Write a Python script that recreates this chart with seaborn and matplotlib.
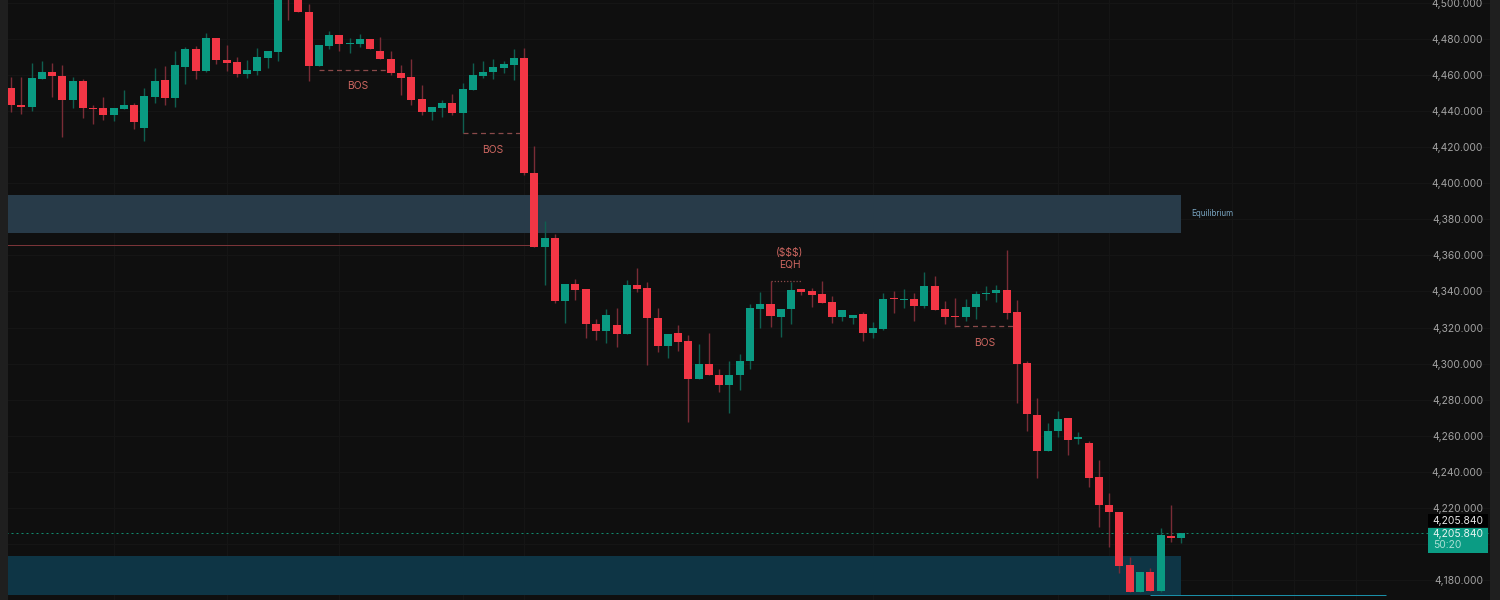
"""Candlestick chart, dark theme, with zones and BOS/EQH notes."""
import matplotlib

matplotlib.use("Agg")
import matplotlib.pyplot as plt  # noqa: E402
import numpy as np  # noqa: E402
import pandas as pd  # noqa: E402
import seaborn as sns  # noqa: E402
from matplotlib.patches import Rectangle  # noqa: E402

opens = [4452.9, 4443.6, 4442.5, 4458.0, 4461.9, 4459.5, 4446.0, 4456.7, 4441.8, 4441.6,
         4438.1, 4441.2, 4443.4, 4430.9, 4448.0, 4457.3, 4447.3, 4464.7, 4474.5, 4462.5,
         4480.6, 4468.6, 4467.3, 4460.6, 4462.3, 4469.5, 4472.8, 4515.0, 4506.0, 4495.2,
         4465.0, 4476.3, 4482.3, 4477.4, 4477.3, 4480.2, 4473.4, 4469.1, 4461.4, 4458.8,
         4446.6, 4439.5, 4441.6, 4444.5, 4439.2, 4451.9, 4459.7, 4461.7, 4463.8, 4465.6,
         4469.7, 4405.9, 4364.8, 4369.5, 4334.7, 4344.1, 4341.4, 4321.9, 4317.9, 4321.2,
         4316.6, 4343.6, 4341.9, 4325.3, 4309.9, 4316.8, 4312.3, 4291.3, 4299.6, 4293.9,
         4287.9, 4293.5, 4301.2, 4330.5, 4333.1, 4325.8, 4330.3, 4341.2, 4340.1, 4338.6,
         4334.3, 4325.7, 4325.5, 4327.3, 4317.0, 4319.2, 4336.0, 4335.5, 4335.8, 4331.8,
         4343.0, 4330.1, 4326.4, 4325.8, 4331.2, 4338.6, 4339.0, 4340.8, 4328.4, 4300.1,
         4271.7, 4251.4, 4262.4, 4269.6, 4258.4, 4255.8, 4237.1, 4221.6, 4217.9, 4188.3,
         4173.1, 4184.4, 4174.1, 4204.6, 4203.3]
closes = [4443.2, 4442.5, 4458.4, 4461.9, 4459.5, 4446.0, 4456.7, 4441.6, 4441.0, 4438.1,
          4441.6, 4443.4, 4433.8, 4448.6, 4456.7, 4447.5, 4465.4, 4474.5, 4462.5, 4480.4,
          4468.4, 4466.7, 4460.6, 4462.8, 4469.9, 4473.2, 4506.0, 4506.0, 4494.8, 4465.0,
          4476.5, 4482.3, 4477.1, 4477.8, 4480.2, 4474.3, 4468.7, 4461.2, 4458.4, 4446.0,
          4439.3, 4442.1, 4444.5, 4439.2, 4452.1, 4460.2, 4461.9, 4464.3, 4466.0, 4469.7,
          4405.9, 4364.8, 4369.5, 4334.7, 4344.1, 4341.0, 4321.8, 4317.9, 4327.1, 4316.4,
          4343.6, 4341.6, 4325.1, 4309.9, 4316.6, 4312.0, 4291.3, 4299.6, 4293.9, 4287.9,
          4293.9, 4301.6, 4330.8, 4333.1, 4326.4, 4330.5, 4341.0, 4339.7, 4338.2, 4333.8,
          4325.7, 4329.7, 4327.1, 4317.0, 4319.5, 4335.8, 4335.6, 4335.8, 4331.8, 4343.0,
          4329.9, 4326.0, 4326.0, 4331.6, 4338.6, 4339.3, 4340.8, 4328.3, 4299.6, 4271.9,
          4251.4, 4262.6, 4269.5, 4257.8, 4259.3, 4236.7, 4221.4, 4217.7, 4187.9, 4173.1,
          4184.4, 4174.1, 4204.9, 4203.5, 4205.84]
highs = [4458.8, 4458.8, 4466.5, 4467.8, 4466.5, 4465.6, 4459.1, 4457.7, 4443.6, 4447.9,
         4441.6, 4451.7, 4444.7, 4452.7, 4463.8, 4465.3, 4473.4, 4475.8, 4476.3, 4483.5,
         4480.6, 4476.7, 4469.9, 4468.4, 4475.0, 4473.2, 4510.0, 4520.0, 4510.0, 4499.4,
         4476.5, 4484.3, 4482.3, 4480.4, 4482.8, 4480.2, 4481.0, 4473.4, 4465.8, 4469.1,
         4454.5, 4442.1, 4446.2, 4449.5, 4455.4, 4466.5, 4467.8, 4468.7, 4467.8, 4474.5,
         4475.2, 4420.7, 4379.1, 4371.9, 4344.1, 4347.1, 4341.4, 4324.5, 4330.3, 4330.6,
         4346.4, 4353.2, 4345.2, 4330.6, 4316.6, 4321.6, 4315.9, 4310.9, 4316.8, 4296.8,
         4301.4, 4305.3, 4332.9, 4339.5, 4346.0, 4330.5, 4345.1, 4341.2, 4342.1, 4345.8,
         4337.5, 4329.7, 4327.1, 4328.6, 4323.3, 4339.0, 4340.5, 4341.6, 4339.0, 4350.6,
         4348.6, 4334.5, 4336.2, 4335.6, 4340.3, 4343.0, 4343.6, 4363.0, 4335.3, 4301.6,
         4280.7, 4267.2, 4273.7, 4269.6, 4261.9, 4257.3, 4246.5, 4228.1, 4217.9, 4192.6,
         4184.4, 4186.4, 4208.8, 4221.6, 4205.5]
lows = [4439.5, 4438.4, 4440.3, 4458.0, 4447.7, 4425.9, 4441.6, 4436.0, 4432.9, 4435.1,
        4434.7, 4441.2, 4429.9, 4423.3, 4444.7, 4443.4, 4442.5, 4455.1, 4457.7, 4461.9,
        4466.2, 4462.1, 4458.8, 4458.2, 4459.9, 4463.9, 4468.0, 4490.6, 4494.8, 4456.5,
        4465.0, 4474.3, 4473.2, 4472.1, 4475.4, 4474.3, 4468.7, 4460.1, 4449.0, 4443.6,
        4437.9, 4434.9, 4436.6, 4438.1, 4428.1, 4451.9, 4458.2, 4458.0, 4461.0, 4457.5,
        4404.6, 4364.8, 4343.6, 4333.4, 4322.7, 4335.3, 4314.4, 4313.1, 4311.2, 4309.0,
        4316.6, 4339.9, 4299.2, 4306.4, 4302.9, 4307.2, 4267.8, 4291.3, 4293.9, 4284.4,
        4272.4, 4285.4, 4296.8, 4319.9, 4320.5, 4314.6, 4322.0, 4338.0, 4331.2, 4333.8,
        4322.7, 4323.8, 4322.0, 4312.5, 4314.4, 4318.6, 4327.9, 4330.8, 4323.6, 4330.8,
        4329.9, 4321.8, 4320.5, 4323.4, 4324.5, 4335.3, 4334.2, 4324.5, 4278.0, 4262.8,
        4236.4, 4251.4, 4259.1, 4249.3, 4255.2, 4231.7, 4209.6, 4198.5, 4183.7, 4173.1,
        4173.1, 4174.1, 4173.5, 4201.2, 4200.3]

price_ticks = [4180, 4200, 4220, 4240, 4260, 4280, 4300, 4320, 4340, 4360, 4380, 4400,
               4420, 4440, 4460, 4480, 4500]
# 4,200 is hidden behind the last-price tag in the reference
shown_ticks = [t for t in price_ticks if t != 4200]
grid_bars = [10, 21, 32, 44, 50, 84, 102, 107, 119, 125, 131]

last_price = 4205.84
countdown = "50:20"
equilibrium_zone = (4372.4, 4393.5)
lower_zone = (4171.7, 4193.3)
zone_end_bar = 114
swing_low_price = 4365.8
swing_low_end_bar = 51
support_price = 4171.9
support_bars = (111.0, 134.0)
bos_lines = [(30, 36.5, 4463.0), (44, 50, 4428.1), (92, 98, 4320.7)]
bos_labels = [(33.8, 4454.0), (46.9, 4418.7), (94.9, 4311.6)]
eqh_line = (74, 77, 4346.0)

BG = "#0f0f0f"
STRIP = "#1f1f1f"
UP = "#0a9a82"
DOWN = "#f23645"
NOTE = "#cc6660"
GRID = "#151515"

W, H = 1500, 600


def px_rect(fig, x0, y0, x1, y1, color):
    # pixel box, y counted from the top of the picture
    fig.add_artist(Rectangle((x0 / W, 1 - y1 / H), (x1 - x0) / W, (y1 - y0) / H,
                             transform=fig.transFigure, color=color, lw=0, zorder=2))


def px_text(fig, x, y, s, color, size=7.4, ha="right"):
    fig.text(x / W, 1 - y / H, s, color=color, fontsize=size, ha=ha, va="center", zorder=3)


sns.set_theme(style="dark")
plt.rcParams["font.family"] = ["Inter", "DejaVu Sans"]

df = pd.DataFrame({"bar": np.arange(len(opens)), "open": opens, "high": highs,
                   "low": lows, "close": closes})
df["bottom"] = df[["open", "close"]].min(axis=1)
df["body"] = (df["close"] - df["open"]).abs().clip(lower=0.6)

fig = plt.figure(figsize=(15, 6), dpi=100, facecolor=STRIP)
ax = fig.add_axes([8 / W, 0, (1490 - 8) / W, 1], facecolor=BG)

ax.hlines(price_ticks, -1, 150, color=GRID, lw=0.8, zorder=0)
ax.vlines(grid_bars, 4100, 4600, color=GRID, lw=0.8, zorder=0)

ax.fill_between([-1, zone_end_bar], *equilibrium_zone, color="#283b49", lw=0, zorder=1)
ax.fill_between([-1, zone_end_bar], *lower_zone, color="#0e3545", lw=0, zorder=1)
ax.hlines(swing_low_price, -1, swing_low_end_bar, color="#7a3438", lw=0.72, zorder=1.5)
ax.hlines(support_price, *support_bars, color="#1a8fa8", lw=0.72, zorder=1.5)
ax.hlines(last_price, -1, 150, color="#128a6e", lw=0.72, linestyles=(0, (2, 3)), zorder=1.5)

for frame, body_color, wick_color in [(df[df["close"] >= df["open"]], UP, "#0f5f50"),
                                      (df[df["close"] < df["open"]], DOWN, "#7a2c36")]:
    ax.vlines(frame["bar"], frame["low"], frame["high"], color=wick_color, lw=1.0, zorder=2)
    sns.barplot(x=frame["bar"].to_numpy(), y=frame["body"].to_numpy(),
                bottom=frame["bottom"].to_numpy(), native_scale=True, width=0.78,
                color=body_color, saturation=1, errorbar=None, linewidth=0,
                zorder=3, ax=ax)

for x0, x1, price in bos_lines:
    ax.hlines(price, x0, x1, color="#8a4a4a", lw=0.9, linestyles=(0, (4, 3)), zorder=2.5)
for x, price in bos_labels:
    ax.text(x, price, "BOS", color=NOTE, fontsize=7.4, ha="center", va="center")

ax.hlines(eqh_line[2], eqh_line[0], eqh_line[1], color="#8a4a4a", lw=0.9,
          linestyles=(0, (1, 1.5)), zorder=2.5)
ax.text(75.9, 4361.3, "($$$)", color=NOTE, fontsize=7.4, ha="center", va="center")
ax.text(75.9, 4354.9, "EQH", color=NOTE, fontsize=7.4, ha="center", va="center")
ax.text(114.95, 4383.4, "Equilibrium", color="#7aa6c2", fontsize=5.8, ha="left", va="center")

ax.set_xlim(-0.29, 144.1)
ax.set_ylim(4168.9, 4501.66)
ax.set_xlabel("")
ax.set_ylabel("")
ax.set_xticks([])
ax.yaxis.tick_right()
ax.set_yticks(shown_ticks)
ax.set_yticklabels([f"{t:,.3f}" for t in shown_ticks])
ax.tick_params(axis="y", length=0, pad=-5, labelsize=7.4, labelcolor="#a3a3a3")
for label in ax.get_yticklabels():
    label.set_ha("right")
sns.despine(ax=ax, left=True, bottom=True, right=True, top=True)
ax.grid(False)

# last-price tags on the scale
px_rect(fig, 1428, 514, 1488, 527, "#000000")
px_text(fig, 1483, 520.5, f"{last_price:,.3f}", "#e6e6e6")
px_rect(fig, 1428, 527.5, 1488, 552.5, "#0b9c84")
px_text(fig, 1483, 534, f"{last_price:,.3f}", "#e8f5f2")
px_text(fig, 1462, 545, countdown, "#a9dfd4")

fig.savefig("out.png", dpi=100, facecolor=fig.get_facecolor())
